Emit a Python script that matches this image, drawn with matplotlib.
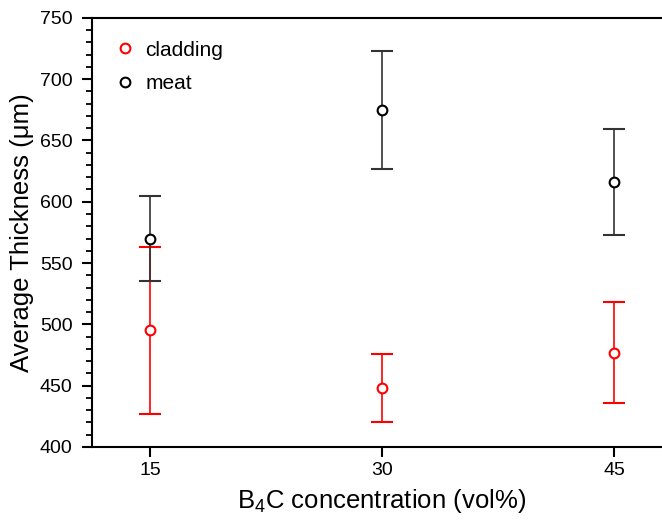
import matplotlib
matplotlib.use("Agg")
import matplotlib.pyplot as plt
from matplotlib.ticker import MultipleLocator
from matplotlib.lines import Line2D

plt.rcParams['font.family'] = ['Liberation Sans', 'DejaVu Sans']
plt.rcParams['mathtext.default'] = 'regular'

# B4C concentration (vol%)
conc = [15, 30, 45]

# average thickness and error (um)
cladding = [495, 448, 477]
cladding_err = [68, 28, 41]
meat = [570, 675, 616]
meat_err = [35, 48, 43]

fig = plt.figure(figsize=(6.62, 5.24), dpi=100)
ax = fig.add_axes([0.139, 0.147, 0.876, 0.819])

ax.errorbar(conc, cladding, yerr=cladding_err, fmt='o', color='red',
            mfc='white', mec='red', ms=7, mew=1.5, elinewidth=1.2,
            capsize=8, capthick=1.2)
ax.errorbar(conc, meat, yerr=meat_err, fmt='o', color='#333333',
            mfc='white', mec='black', ms=7, mew=1.5, elinewidth=1.2,
            capsize=8, capthick=1.2)

ax.set_xlim(11.25, 48.75)
ax.set_ylim(400, 750)
ax.set_xticks(conc)
ax.yaxis.set_major_locator(MultipleLocator(50))
ax.yaxis.set_minor_locator(MultipleLocator(10))

for s in ax.spines.values():
    s.set_linewidth(1.5)
ax.tick_params(axis='both', which='major', direction='out', length=7, width=1.5,
               labelsize=14, top=False, right=False)
ax.tick_params(axis='y', which='major', pad=7)
ax.tick_params(axis='y', which='minor', direction='out', length=4, width=1.3)

ax.set_xlabel('B$_4$C concentration (vol%)', fontsize=18.5, labelpad=6)
ax.set_ylabel('Average Thickness (\u03bcm)', fontsize=18.5, labelpad=4)

# legend with markers only
handles = [
    Line2D([], [], ls='none', marker='o', ms=7, mew=1.5, mfc='white', mec='red'),
    Line2D([], [], ls='none', marker='o', ms=7, mew=1.5, mfc='white', mec='black'),
]
ax.legend(handles, ['cladding', 'meat'], loc='upper left', frameon=False,
          fontsize=15, handlelength=1, handletextpad=0.5, labelspacing=0.7,
          borderaxespad=0, bbox_to_anchor=(0.024, 0.966))

fig.savefig('out.png', dpi=100)
